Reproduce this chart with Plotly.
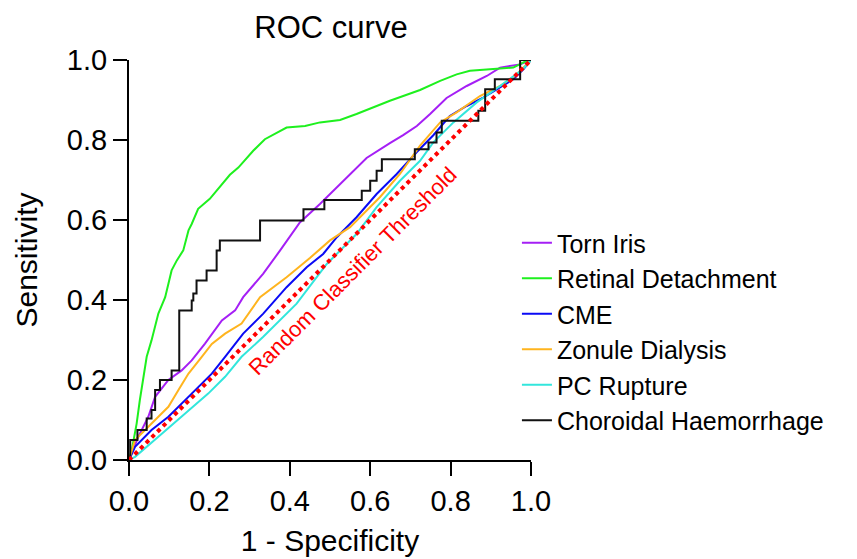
import plotly.graph_objects as go

# ---- data ----
torn_x = [0, 0.007, 0.023, 0.048, 0.065, 0.098, 0.131, 0.156, 0.189, 0.231, 0.264, 0.284, 0.334, 0.376,
          0.425, 0.475, 0.508, 0.550, 0.591, 0.649, 0.682, 0.716, 0.749, 0.790, 0.840, 0.890, 0.923, 0.973, 1.0]
torn_y = [0, 0.017, 0.058, 0.108, 0.158, 0.200, 0.224, 0.249, 0.291, 0.349, 0.374, 0.407, 0.466, 0.524,
          0.594, 0.640, 0.673, 0.715, 0.755, 0.792, 0.812, 0.835, 0.865, 0.905, 0.935, 0.960, 0.981, 0.989, 1.0]

rd_x = [0, 0.007, 0.019, 0.027, 0.044, 0.056, 0.073, 0.090, 0.106, 0.119, 0.135, 0.148, 0.156, 0.172,
        0.201, 0.226, 0.251, 0.272, 0.309, 0.338, 0.392, 0.438, 0.475, 0.525, 0.566, 0.649, 0.724, 0.774,
        0.815, 0.848, 0.906, 0.956, 0.989, 1.0]
rd_y = [0, 0.025, 0.091, 0.150, 0.258, 0.299, 0.366, 0.407, 0.474, 0.499, 0.524, 0.574, 0.590, 0.628,
        0.653, 0.682, 0.713, 0.731, 0.773, 0.802, 0.831, 0.835, 0.844, 0.850, 0.865, 0.898, 0.925, 0.948,
        0.964, 0.973, 0.978, 0.981, 0.998, 1.0]

cme_x = [0, 0.015, 0.056, 0.098, 0.156, 0.206, 0.239, 0.284, 0.334, 0.392, 0.442, 0.483, 0.517, 0.566,
         0.616, 0.666, 0.716, 0.757, 0.798, 0.840, 0.881, 0.923, 0.956, 0.981, 1.0]
cme_y = [0, 0.033, 0.075, 0.108, 0.166, 0.216, 0.258, 0.316, 0.366, 0.432, 0.482, 0.515, 0.557, 0.607,
         0.665, 0.715, 0.770, 0.812, 0.860, 0.885, 0.906, 0.931, 0.952, 0.977, 1.0]

zd_x = [0, 0.015, 0.073, 0.098, 0.123, 0.148, 0.181, 0.206, 0.239, 0.280, 0.326, 0.392, 0.450, 0.500,
        0.550, 0.583, 0.624, 0.674, 0.724, 0.774, 0.815, 0.873, 0.923, 0.960, 1.0]
zd_y = [0, 0.050, 0.108, 0.133, 0.175, 0.216, 0.258, 0.290, 0.316, 0.341, 0.407, 0.457, 0.505, 0.549,
        0.582, 0.615, 0.657, 0.715, 0.786, 0.844, 0.869, 0.910, 0.935, 0.960, 1.0]

pc_x = [0, 0.015, 0.073, 0.131, 0.197, 0.239, 0.280, 0.334, 0.417, 0.492, 0.566, 0.616, 0.674, 0.724,
        0.757, 0.807, 0.865, 0.923, 0.980, 1.0]
pc_y = [0, 0.008, 0.058, 0.108, 0.166, 0.208, 0.258, 0.308, 0.391, 0.490, 0.565, 0.632, 0.698, 0.748,
        0.794, 0.844, 0.894, 0.935, 0.977, 1.0]

ch_x = [0, 0.003, 0.021, 0.044, 0.056, 0.065, 0.077, 0.106, 0.125, 0.156, 0.160, 0.168, 0.193, 0.218,
        0.226, 0.326, 0.434, 0.486, 0.579, 0.600, 0.616, 0.629, 0.711, 0.745, 0.765, 0.778, 0.869, 0.886,
        0.910, 0.973, 1.0]
ch_y = [0, 0.050, 0.075, 0.104, 0.125, 0.175, 0.200, 0.224, 0.374, 0.399, 0.416, 0.449, 0.474, 0.524,
        0.549, 0.599, 0.627, 0.650, 0.673, 0.698, 0.723, 0.752, 0.777, 0.794, 0.819, 0.848, 0.873, 0.927,
        0.952, 1.0, 1.0]

diag_x = [0, 1]
diag_y = [0, 1]

x_ticks = [0.0, 0.2, 0.4, 0.6, 0.8, 1.0]
y_ticks = [0.0, 0.2, 0.4, 0.6, 0.8, 1.0]

FONT = "Liberation Sans, Arial, Helvetica, sans-serif"

fig = go.Figure()
series = [
    ("Torn Iris", torn_x, torn_y, "#A51FF5", "linear"),
    ("Retinal Detachment", rd_x, rd_y, "#1EF01E", "linear"),
    ("CME", cme_x, cme_y, "#0A0AF5", "linear"),
    ("Zonule Dialysis", zd_x, zd_y, "#FFB41E", "linear"),
    ("PC Rupture", pc_x, pc_y, "#32E6DC", "linear"),
    ("Choroidal Haemorrhage", ch_x, ch_y, "#111111", "hv"),
]
for name, xs, ys, col, shape in series:
    fig.add_trace(go.Scatter(x=xs, y=ys, mode="lines", name=name,
                             line=dict(color=col, width=2, shape=shape), cliponaxis=False))

fig.add_trace(go.Scatter(x=diag_x, y=diag_y, mode="lines", showlegend=False,
                         line=dict(color="#FF0000", width=4, dash="dot"), cliponaxis=False))

fig.add_annotation(x=0.555, y=0.472, xref="x", yref="y", text="Random Classifier Threshold",
                   showarrow=False, textangle=-45, font=dict(family=FONT, size=22, color="#FF0000"))

axis_common = dict(range=[0, 1], showgrid=False, zeroline=False, showline=True, linecolor="black",
                   linewidth=2, ticks="outside", ticklen=14, tickwidth=2, tickcolor="black",
                   automargin=False,
                   tickfont=dict(family=FONT, size=29, color="black"))

fig.update_layout(
    width=857, height=559,
    margin=dict(l=121, r=334, t=52, b=107, autoexpand=False),
    plot_bgcolor="white", paper_bgcolor="white",
    title=dict(text="ROC curve", x=323 / 857, xanchor="center", y=1 - 19 / 559, yanchor="middle",
               font=dict(family=FONT, size=31, color="black")),
    xaxis=dict(**axis_common, tickvals=x_ticks, ticktext=[f"{v:.1f}" for v in x_ticks],
               title=dict(text="1 - Specificity", font=dict(family=FONT, size=30, color="black"), standoff=14)),
    yaxis=dict(**axis_common, tickvals=y_ticks, ticktext=[f"{v:.1f}" for v in y_ticks],
               title=dict(text="Sensitivity", font=dict(family=FONT, size=30, color="black"), standoff=20)),
    legend=dict(x=0.965, xanchor="left", y=0.60, yanchor="top",
                font=dict(family=FONT, size=25, color="black"), tracegroupgap=0,
                bgcolor="rgba(0,0,0,0)", itemwidth=30),
    showlegend=True,
)

fig.write_html("out.html")
